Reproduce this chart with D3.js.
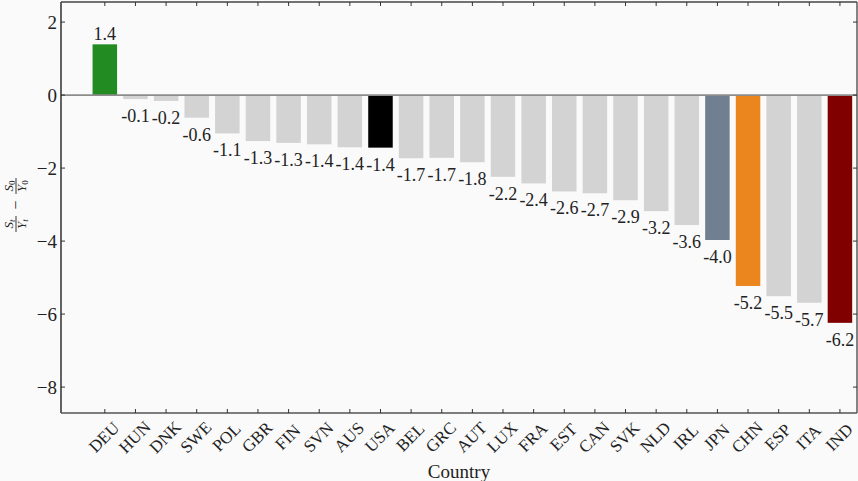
<!DOCTYPE html>
<html>
<head>
<meta charset="utf-8">
<script src="https://cdn.jsdelivr.net/npm/d3@7"></script>
<style>
  body { margin: 0; background: #fafafa; }
  svg { display: block; }
  text { font-family: "Liberation Serif", "DejaVu Serif", serif; fill: #222; }
</style>
</head>
<body>
<svg id="chart" width="858" height="481"></svg>
<script>
// chart data
const countries = ["DEU","HUN","DNK","SWE","POL","GBR","FIN","SVN","AUS","USA","BEL","GRC",
  "AUT","LUX","FRA","EST","CAN","SVK","NLD","IRL","JPN","CHN","ESP","ITA","IND"];
const values = [1.39, -0.11, -0.16, -0.62, -1.05, -1.26, -1.31, -1.35, -1.43, -1.44, -1.73, -1.72,
  -1.84, -2.24, -2.42, -2.64, -2.69, -2.88, -3.18, -3.56, -3.97, -5.23, -5.51, -5.69, -6.24];
const highlight = { DEU: "#228b22", USA: "#000000", JPN: "#708090", CHN: "#eb861f", IND: "#800000" };
const yTicks = [2, 0, -2, -4, -6, -8];

const svg = d3.select("#chart");
const m = { left: 61, right: 857, top: 2, bottom: 413 };

const x = d3.scaleBand().domain(countries)
  .range([m.left + 28.5, m.left + 28.5 + 30.63 * 25]).paddingInner(0.2).paddingOuter(0.1);
const y = d3.scaleLinear().domain([-8.71, 2.55]).range([m.bottom, m.top]);

const fmt = v => v.toFixed(1);
const rows = countries.map((c, i) => ({ c, v: values[i] }));

// bars
svg.append("g").selectAll("rect")
  .data(rows).enter().append("rect")
    .attr("x", d => x(d.c))
    .attr("width", x.bandwidth())
    .attr("y", d => y(Math.max(0, d.v)))
    .attr("height", d => Math.abs(y(d.v) - y(0)))
    .attr("fill", d => highlight[d.c] || "#d3d3d3");

// zero line
svg.append("line")
  .attr("x1", m.left).attr("x2", m.right)
  .attr("y1", y(0)).attr("y2", y(0))
  .attr("stroke", "#8c8c8c").attr("stroke-width", 1.6);

// value labels
svg.append("g").selectAll("text")
  .data(rows).enter().append("text")
    .attr("x", d => x(d.c) + x.bandwidth() / 2)
    .attr("y", d => d.v >= 0 ? y(d.v) - 4 : y(d.v) + 23)
    .attr("text-anchor", "middle")
    .style("font-size", "18px")
    .text(d => fmt(d.v));

// frame
const frame = svg.append("g").attr("fill", "none");
frame.append("line").attr("x1", m.left).attr("x2", m.left).attr("y1", m.top).attr("y2", m.bottom)
  .attr("stroke", "#111").attr("stroke-width", 1.3);
frame.append("line").attr("x1", m.right).attr("x2", m.right).attr("y1", m.top).attr("y2", m.bottom)
  .attr("stroke", "#444").attr("stroke-width", 1.3);
frame.append("line").attr("x1", m.left).attr("x2", m.right).attr("y1", m.top).attr("y2", m.top)
  .attr("stroke", "#444").attr("stroke-width", 1.3);
frame.append("line").attr("x1", m.left).attr("x2", m.right).attr("y1", m.bottom).attr("y2", m.bottom)
  .attr("stroke", "#555").attr("stroke-width", 1.6);

// ticks (inward)
const cx = d => x(d) + x.bandwidth() / 2;
const tk = svg.append("g").attr("stroke", "#333").attr("stroke-width", 1);
countries.forEach(c => {
  tk.append("line").attr("x1", cx(c)).attr("x2", cx(c)).attr("y1", m.bottom).attr("y2", m.bottom - 4);
  tk.append("line").attr("x1", cx(c)).attr("x2", cx(c)).attr("y1", m.top).attr("y2", m.top + 4);
});
yTicks.forEach(t => {
  tk.append("line").attr("x1", m.left).attr("x2", m.left + 4).attr("y1", y(t)).attr("y2", y(t));
  tk.append("line").attr("x1", m.right).attr("x2", m.right - 4).attr("y1", y(t)).attr("y2", y(t));
});

// y tick labels
svg.append("g").selectAll("text")
  .data(yTicks).enter().append("text")
    .attr("x", m.left - 4)
    .attr("y", d => y(d))
    .attr("dy", "0.35em")
    .attr("text-anchor", "end")
    .style("font-size", "19px")
    .text(d => d < 0 ? "\u2212" + Math.abs(d) : d);

// x tick labels, rotated 45
svg.append("g").selectAll("text")
  .data(countries).enter().append("text")
    .attr("transform", d => `translate(${cx(d) - 1},437) rotate(-45)`)
    .attr("text-anchor", "middle")
    .attr("dy", "0.35em")
    .style("font-size", "17px")
    .text(d => d);

// x axis title
svg.append("text")
  .attr("x", (m.left + m.right) / 2).attr("y", 478)
  .attr("text-anchor", "middle")
  .style("font-size", "19px")
  .text("Country");

// y axis title: S_t/Y_t - S_0/Y_0, rotated
const yl = svg.append("g").attr("transform", "translate(16,205) rotate(-90)");
function frac(g, xc, num, sub) {
  const it = sub === "t" ? "italic" : "normal";
  const n = g.append("text").attr("x", xc).attr("y", -3).attr("text-anchor", "middle").style("font-size", "13px");
  n.append("tspan").style("font-style", "italic").text(num[0]);
  n.append("tspan").attr("dy", 2).style("font-size", "9px").style("font-style", it).text(sub);
  const dn = g.append("text").attr("x", xc).attr("y", 10).attr("text-anchor", "middle").style("font-size", "13px");
  dn.append("tspan").style("font-style", "italic").text(num[1]);
  dn.append("tspan").attr("dy", 2).style("font-size", "9px").style("font-style", it).text(sub);
  g.append("line").attr("x1", xc - 8).attr("x2", xc + 8).attr("y1", 0).attr("y2", 0)
    .attr("stroke", "#222").attr("stroke-width", 0.9);
}
frac(yl, -19, "SY", "t");
yl.append("text").attr("x", 0).attr("y", 5).attr("text-anchor", "middle").style("font-size", "16px").text("\u2212");
frac(yl, 19, "SY", "0");
</script>
</body>
</html>
